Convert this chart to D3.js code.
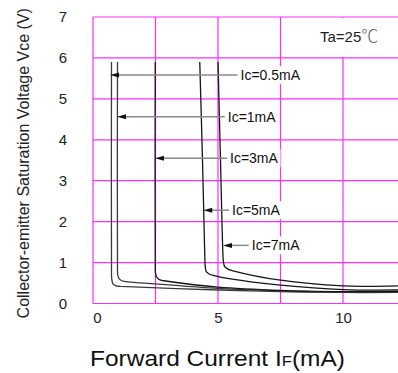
<!DOCTYPE html>
<html><head><meta charset="utf-8">
<script src="https://cdn.jsdelivr.net/npm/d3@7"></script>
<style>body{margin:0;background:#fff}svg{display:block;font-family:"Liberation Sans",Arial,sans-serif}</style>
</head><body><svg id="c" width="398" height="373"></svg>
<script>
// ---- data ----
const xTickValues = [0, 5, 10];
const xGridValues = [0, 2.5, 5, 7.5, 10];
const yTickValues = [0, 1, 2, 3, 4, 5, 6, 7];
const seriesNames = ["Ic=0.5mA", "Ic=1mA", "Ic=3mA", "Ic=5mA", "Ic=7mA"];
// [IF (mA), Vce (V)]
const ic05 = [[0.74,5.9],[0.74,0.8],[0.75,0.6],[0.8,0.48],[0.92,0.43],[1.1,0.42],[5,0.33],[7.5,0.29],[10,0.27],[12.2,0.27]];
const ic1  = [[0.98,5.9],[0.98,0.85],[0.99,0.7],[1.05,0.6],[1.18,0.55],[1.4,0.53],[2.5,0.48],[5,0.37],[7.5,0.31],[10,0.28],[12.2,0.28]];
const ic3  = [[2.49,5.9],[2.49,0.9],[2.5,0.74],[2.56,0.63],[2.7,0.57],[2.9,0.55],[5,0.4],[7.5,0.32],[10,0.29],[12.2,0.29]];
const ic5  = [[4.27,5.9],[4.38,3.5],[4.47,1.2],[4.49,0.9],[4.53,0.78],[4.65,0.72],[4.85,0.68],[5.5,0.6],[7.5,0.45],[10,0.34],[12.2,0.33]];
const ic7  = [[5.0,5.9],[5.1,3.5],[5.2,1.15],[5.22,1.0],[5.27,0.9],[5.4,0.84],[5.6,0.8],[7.5,0.57],[10,0.43],[11,0.42],[12.2,0.43]];
const labelTipIF  = [0.68, 0.96, 2.48, 4.41, 5.2];
const labelTipV   = [5.58, 4.56, 3.55, 2.28, 1.42];
const labelTextIF = [5.9, 5.39, 5.48, 5.56, 6.35];
const tempLabel = "Ta=25";
const tempUnit = "℃";
const yTitle = "Collector-emitter Saturation Voltage Vce (V)";

const seriesData = [ic05, ic1, ic3, ic5, ic7];

// ---- scales ----
const x = d3.scaleLinear().domain([0, 12.2]).range([93, 398]);
const y = d3.scaleLinear().domain([0, 7]).range([303.5, 17]);
const svg = d3.select("#c");
const grid = "#ff2cff";

svg.append("defs").append("clipPath").attr("id","clip")
  .append("rect").attr("x", x(0)).attr("y", y(7)).attr("width", x(12.2)-x(0)).attr("height", y(0)-y(7));

// grid
svg.append("g").selectAll("line").data(yTickValues).join("line")
  .attr("x1", x(0)).attr("x2", x(12.2)).attr("y1", d=>y(d)).attr("y2", d=>y(d))
  .attr("stroke", grid).attr("stroke-width", 1.2);
svg.append("g").selectAll("line").data(xGridValues).join("line")
  .attr("x1", d=>x(d)).attr("x2", d=>x(d)).attr("y1", y(0)).attr("y2", y(7))
  .attr("stroke", grid).attr("stroke-width", 1.2);

// Ta box
svg.append("rect").attr("x", 298).attr("y", y(7)+1).attr("width", 100).attr("height", y(6)-y(7)-2).attr("fill","#fff");

// labels with white boxes
const labelG = svg.append("g");
const tboxes = [];
seriesNames.forEach((n,i)=>{
  const t = labelG.append("text").attr("x", x(labelTextIF[i])).attr("y", y(labelTipV[i]))
    .attr("dominant-baseline","central").attr("font-size",14).attr("fill","#111").text(n);
  tboxes.push(t);
});
tboxes.forEach(t=>{
  const b = t.node().getBBox();
  labelG.insert("rect","text").attr("x", b.x-2).attr("y", b.y-1).attr("width", b.width+4).attr("height", b.height+2).attr("fill","#fff");
});

// curves
const line = d3.line().x(d=>x(d[0])).y(d=>y(d[1])).curve(d3.curveCatmullRom.alpha(0.5));
svg.append("g").attr("clip-path","url(#clip)").selectAll("path").data(seriesData).join("path")
  .attr("d", line).attr("fill","none")
  .attr("stroke", (d,i)=> i<2 ? "#3a3a3a" : "#151515").attr("stroke-width", 1.3);

// leaders + arrowheads
const lead = svg.append("g");
seriesNames.forEach((n,i)=>{
  const tx = x(labelTipIF[i]), ty = y(labelTipV[i]);
  lead.append("line").attr("x1", tx+4).attr("x2", x(labelTextIF[i])-3).attr("y1", ty).attr("y2", ty)
    .attr("stroke","#8a8a8a").attr("stroke-width",1.5);
  lead.append("path").attr("d", `M${tx},${ty} L${tx+9},${ty-2.5} L${tx+9},${ty+2.5} Z`).attr("fill","#111");
});
labelG.raise();

// axes
const ax = svg.append("g").attr("transform", `translate(0,${y(0)})`)
  .call(d3.axisBottom(x).tickValues(xTickValues).tickSize(0).tickPadding(9).tickFormat(d3.format("d")));
ax.select(".domain").remove();
ax.selectAll("text").attr("font-size",15).attr("fill","#222").attr("font-family","Liberation Sans, Arial, sans-serif")
  .attr("dx", d=> d===0 ? 4 : 0);
const ay = svg.append("g").attr("transform", `translate(${x(0)},0)`)
  .call(d3.axisLeft(y).tickValues(yTickValues).tickSize(0).tickPadding(26).tickFormat(d3.format("d")));
ay.select(".domain").remove();
ay.selectAll("text").attr("font-size",15).attr("fill","#222").attr("font-family","Liberation Sans, Arial, sans-serif");

// temperature label
const tt = svg.append("text").attr("x", 320).attr("y", 42).attr("font-size",15).attr("fill","#222");
tt.append("tspan").text(tempLabel);
tt.append("tspan").attr("font-family","Noto Sans CJK SC").attr("font-weight",300).attr("font-size",17).attr("fill","#666").text(tempUnit);

// y title
svg.append("text").attr("transform", `translate(23,${(y(0)+y(7))/2+3}) rotate(-90)`)
  .attr("text-anchor","middle").attr("dominant-baseline","central").attr("font-size",16).attr("fill","#222").text(yTitle);

// x title
const xt = svg.append("text").attr("font-size",22).attr("fill","#111");
xt.append("tspan").text("Forward Current I");
xt.append("tspan").attr("font-size",15).text("F");
xt.append("tspan").text("(mA)");
const w = xt.node().getComputedTextLength();
xt.attr("transform", `translate(90,366) scale(${255/w},1)`);
</script></body></html>
